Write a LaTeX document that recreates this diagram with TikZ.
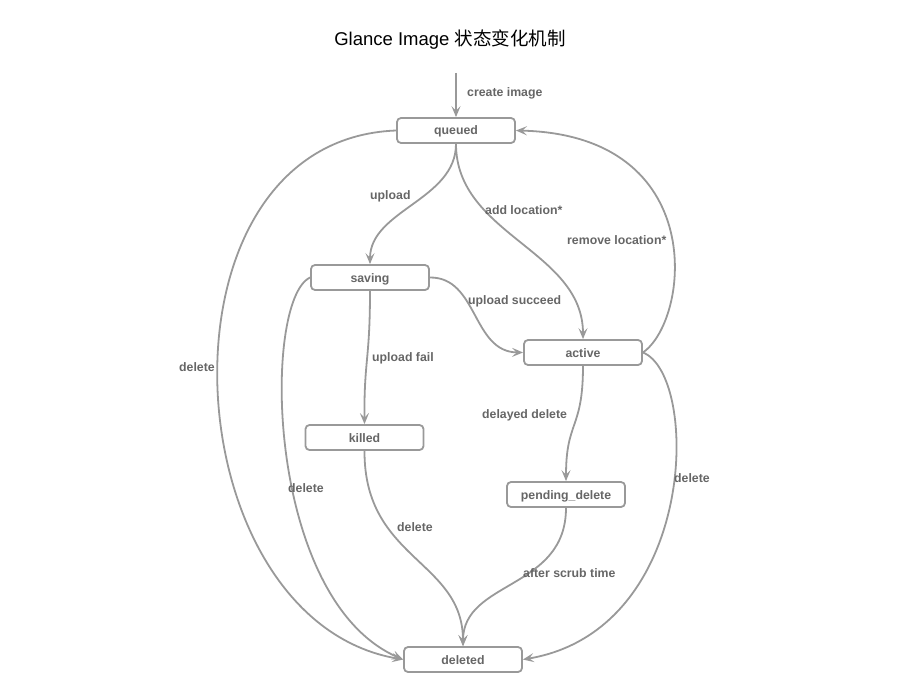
\documentclass[tikz,border=0pt]{standalone}
\usepackage{fontspec}
\setmainfont{Liberation Sans}
\newfontfamily\cjk{Noto Sans CJK SC}
\usetikzlibrary{arrows.meta}
\definecolor{edgegray}{HTML}{999999}
\definecolor{textgray}{HTML}{666666}
\begin{document}
\begin{tikzpicture}[x=1pt,y=-1pt,
  state/.style={draw=edgegray,line width=1.8pt,rounded corners=4pt,fill=white,
    minimum width=118pt,minimum height=25pt,inner sep=0pt,text height=9pt,text depth=0pt,
    font=\fontsize{12.3}{14}\selectfont\bfseries,text=textgray},
  lbl/.style={anchor=west,inner sep=0pt,yshift=-1.5pt,font=\fontsize{12.3}{14}\selectfont\bfseries,text=textgray},
  trans/.style={draw=edgegray,line width=1.8pt,-{Stealth[length=11pt,width=9pt,inset=4.5pt]}}]
\useasboundingbox (0,0) rectangle (923,690);
\node[inner sep=0pt,font=\fontsize{18.5}{22}\selectfont] (title) at (450,40) {Glance Image {\cjk 状态变化机制}};

\node[state] (queued) at (456,130.5) {queued};
\node[state] (saving) at (370,277.5) {saving};
\node[state] (active) at (583,352.5) {active};
\node[state] (killed) at (364.5,437.5) {killed};
\node[state] (pending) at (566,494.5) {pending\_delete};
\node[state] (deleted) at (463,659.5) {deleted};
\coordinate (start) at (456,73);

\draw[trans] (start) -- (queued.north);
\draw[trans] (queued.south) .. controls (456,200) and (370,210) .. (saving.north);
\draw[trans] (queued.south) .. controls (456,235) and (583,250) .. (active.north);
\draw[trans] (active.east) .. controls (690,320) and (710,135) .. (queued.east);
\draw[trans] (saving.east) .. controls (478,277) and (472,352) .. (active.west);
\draw[trans] (saving.south) .. controls (370,360) and (364,360) .. (killed.north);
\draw[trans] (active.south) .. controls (583,430) and (566,420) .. (pending.north);
\draw[trans] (killed.south) .. controls (364,560) and (463,560) .. (deleted.north);
\draw[trans] (pending.south) .. controls (566,590) and (463,580) .. (deleted.north);
\draw[trans] (queued.west) .. controls (145,140) and (170,620) .. (deleted.west);
\draw[trans] (saving.west) .. controls (262,300) and (265,600) .. (deleted.west);
\draw[trans] (active.east) .. controls (700,375) and (698,630) .. (deleted.east);

\node[lbl] (l1) at (467,92) {create image};
\node[lbl] (l2) at (370,195) {upload};
\node[lbl] (l3) at (485,209) {add location*};
\node[lbl] (l4) at (567,239) {remove location*};
\node[lbl] (l5) at (468,300) {upload succeed};
\node[lbl] (l6) at (372,357) {upload fail};
\node[lbl] (l7) at (482,414) {delayed delete};
\node[lbl] (l8) at (179,366) {delete};
\node[lbl] (l9) at (288,487) {delete};
\node[lbl] (l10) at (397,526) {delete};
\node[lbl] (l11) at (523,572) {after scrub time};
\node[lbl] (l12) at (674,477) {delete};
\end{tikzpicture}
\end{document}
